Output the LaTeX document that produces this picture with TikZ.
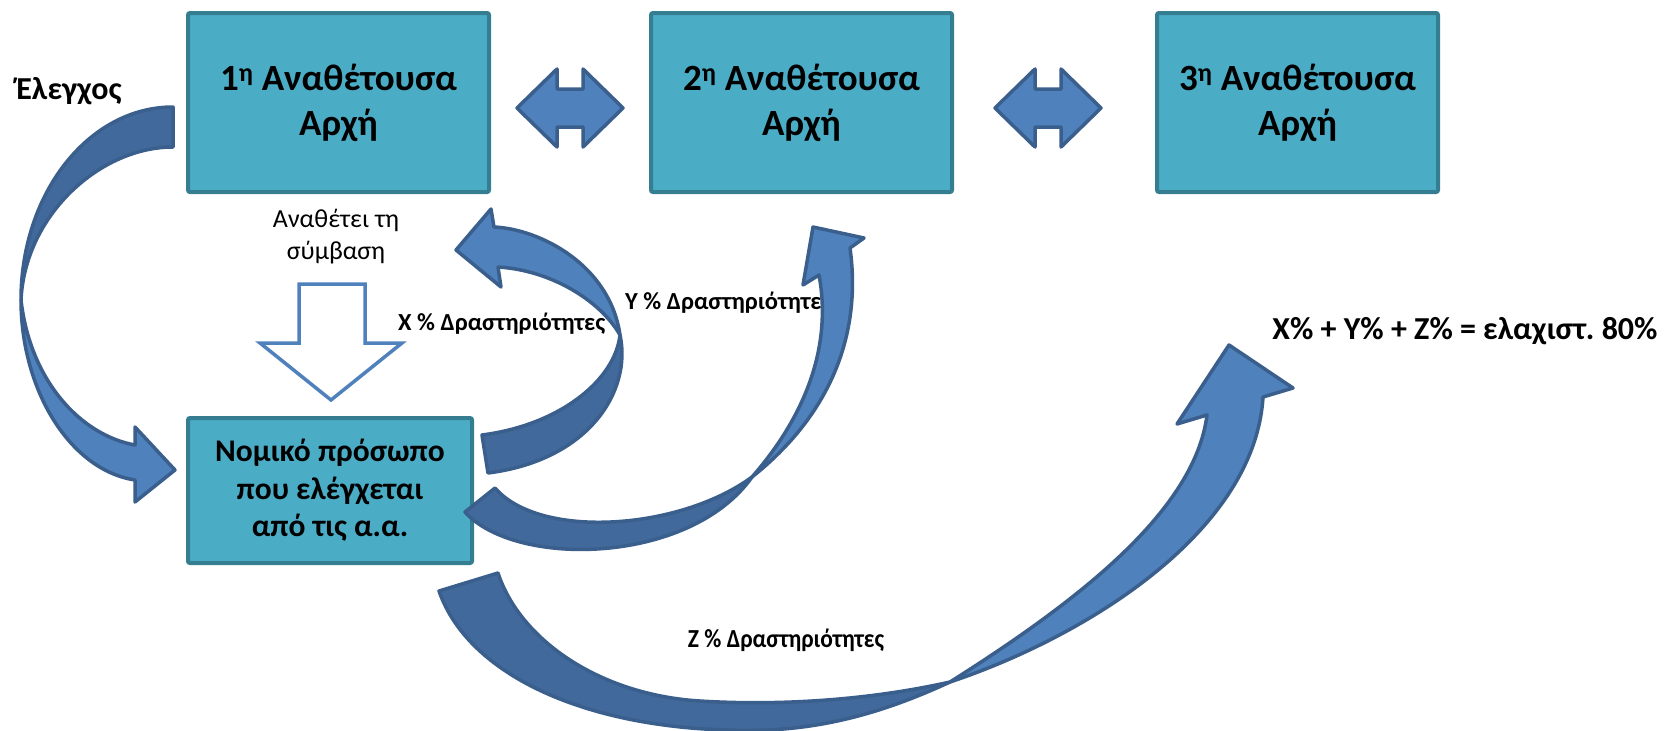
\documentclass[tikz,border=0pt]{standalone}
\usepackage{fontspec}
\setmainfont{Carlito}
\newfontfamily\condfont[FakeStretch=0.9]{Carlito}
\frenchspacing
\definecolor{boxfill}{HTML}{4BACC6}
\definecolor{boxline}{HTML}{357D91}
\definecolor{arrlight}{HTML}{4F81BD}
\definecolor{arrdark}{HTML}{41699B}
\definecolor{arrline}{HTML}{3A5F8C}
\tikzset{
  boxst/.style={draw=boxline, fill=boxfill, line width=4pt, rounded corners=2pt,
    inner sep=0pt, align=center, text=black},
  bigbox/.style={boxst, minimum width=301pt, minimum height=179pt,
    font=\fontsize{37}{45}\selectfont\bfseries},
  lightarr/.style={fill=arrlight, draw=arrline, line width=3.5pt, line join=round},
  darkarr/.style={fill=arrdark, draw=arrline, line width=3.5pt, line join=round},
  hollowarr/.style={fill=white, draw=arrlight, line width=3.5pt, line join=miter},
  pctlbl/.style={inner sep=0pt, font=\fontsize{24.5}{30}\selectfont\bfseries},
}
\begin{document}
\begin{tikzpicture}[x=1pt,y=-1pt]
\useasboundingbox (0,0) rectangle (1666,731);

% boxes
\node[bigbox] (aa1) at (338.5,102.5) {1\textsuperscript{η} Αναθέτουσα\\Αρχή};
\node[bigbox] (aa2) at (801.5,102.5) {2\textsuperscript{η} Αναθέτουσα\\Αρχή};
\node[bigbox, minimum width=281pt] (aa3) at (1297.5,102.5) {3\textsuperscript{η} Αναθέτουσα\\Αρχή};
\node[boxst, minimum width=284pt, minimum height=145pt,
  font=\fontsize{31.5}{37.5}\selectfont\bfseries] (np) at (330,490.5)
  {Νομικό πρόσωπο\\που ελέγχεται\\από τις α.α.};

% double arrows
\foreach \c/\n in {570/da1, 1048/da2}{
  \coordinate (\n) at (\c,108);
  \begin{scope}[shift={(\n)}]
    \filldraw[lightarr] (-53,0) -- (-13,-39) -- (-13,-19) -- (13,-19) -- (13,-39)
      -- (53,0) -- (13,39) -- (13,19) -- (-13,19) -- (-13,39) -- cycle;
  \end{scope}
}

% hollow down arrow
\filldraw[hollowarr] (299,284) -- (365,284) -- (365,343) -- (402,343) -- (331,400)
  -- (260,343) -- (299,343) -- cycle;

% labels
\node[inner sep=0pt, font=\fontsize{32}{38}\selectfont\bfseries] (elegxos) at (69,91) {Έλεγχος};
\node[inner sep=0pt, align=center, font=\fontsize{26}{32}\selectfont] (anathetei) at (336,237) {Αναθέτει τη\\σύμβαση};
\node[pctlbl, anchor=west] (xlab) at (398,324) {X \% Δραστηριότητες};
\node[pctlbl, anchor=west] (ylab) at (625,303) {Y \% Δραστηριότητες};
\node[pctlbl, font=\fontsize{26}{30}\selectfont\condfont\bfseries] (zlab) at (786,640) {Z \% Δραστηριότητες};
\node[inner sep=0pt, font=\fontsize{32}{38}\selectfont\bfseries] (sum) at (1465,331) {X\% + Y\% + Z\% = ελαχιστ. 80\%};

% arrow A (control)
\filldraw[darkarr] (173,147) -- (173,107)
  .. controls (89,107) and (21,193) .. (21,300)
  .. controls (25,215) and (100,147) .. (173,147) -- cycle;
\filldraw[lightarr] (21,300) .. controls (21,390) and (70,470) .. (135,480)
  -- (135,502) -- (175,470) -- (135,427) -- (135,445)
  .. controls (80,435) and (30,380) .. (21,300) -- cycle;

% arrow X
\filldraw[lightarr] (620,335) .. controls (610,265) and (540,229) .. (494,227)
  -- (491,209) -- (456,250) -- (501,287) -- (498,267)
  .. controls (550,270) and (600,300) .. (620,335) -- cycle;
\filldraw[darkarr] (620,335) .. controls (632,390) and (590,460) .. (488,473)
  -- (482,435)
  .. controls (560,425) and (615,380) .. (620,335) -- cycle;

% arrow Y
\filldraw[darkarr] (495,488) -- (465,512)
  .. controls (515,568) and (690,565) .. (752,477)
  .. controls (680,530) and (540,540) .. (495,488) -- cycle;
\filldraw[lightarr] (752,477) .. controls (830,415) and (862,335) .. (850,248)
  -- (864,238) -- (813,227) -- (803,285) -- (819,275)
  .. controls (833,350) and (802,420) .. (752,477) -- cycle;

% arrow Z
\filldraw[darkarr] (498,573) -- (439,591)
  .. controls (470,680) and (600,735) .. (767,730)
  .. controls (840,727) and (900,705) .. (950,682)
  .. controls (870,700) and (780,706) .. (700,701)
  .. controls (600,695) and (520,640) .. (498,573) -- cycle;
\filldraw[lightarr] (950,682) .. controls (1090,635) and (1255,530) .. (1263,397)
  -- (1293,388) -- (1229,345) -- (1177,424) -- (1207,415)
  .. controls (1195,510) and (1080,600) .. (950,682) -- cycle;
\end{tikzpicture}
\end{document}
